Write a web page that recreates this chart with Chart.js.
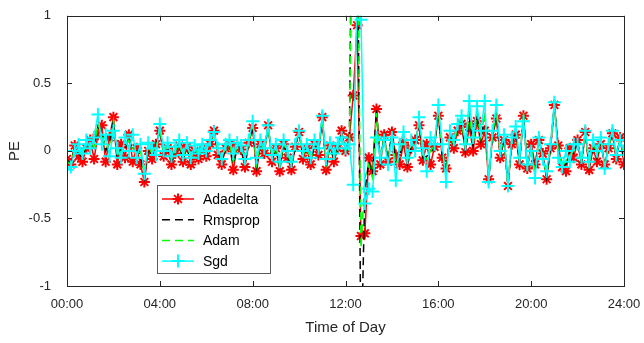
<!DOCTYPE html>
<html>
<head>
<meta charset="utf-8">
<script src="https://cdn.jsdelivr.net/npm/chart.js@4.4.1/dist/chart.umd.min.js"></script>
<style>
    html, body { margin: 0; padding: 0; background: #fff; }
    #wrap { width: 644px; height: 343px; }
</style>
</head>
<body>
<div id="wrap"><canvas id="pe-chart" width="644" height="343"></canvas></div>
<script>
// Sample spacing of all series (minutes), starting at 00:00
const STEP_MIN = 10;

const seriesNames = ['Adadelta', 'Rmsprop', 'Adam', 'Sgd'];
const xTickLabels = ['00:00', '04:00', '08:00', '12:00', '16:00', '20:00', '24:00'];
const yTickLabels = ['-1', '-0.5', '0', '0.5', '1'];

const adadelta = [
    -0.06, -0.10, 0.04, -0.04, -0.08, 0.02,
    0.08, -0.06, 0.12, 0.19, -0.08, 0.10,
    0.25, -0.10, 0.05, -0.05, 0.12, -0.08,
    0.02, -0.10, -0.23, 0.00, -0.06, 0.05,
    0.15, -0.04, 0.02, -0.10, -0.02, 0.04,
    -0.08, 0.03, -0.10, 0.00, -0.06, 0.02,
    -0.04, 0.05, 0.15, -0.03, -0.10, 0.02,
    0.05, -0.14, 0.04, 0.01, -0.12, 0.06,
    0.17, -0.15, 0.05, -0.02, 0.19, -0.08,
    0.02, -0.15, 0.05, -0.05, -0.14, 0.03,
    0.14, -0.06, 0.02, -0.10, 0.05, -0.03,
    0.25, -0.14, 0.04, -0.08, 0.02, 0.15,
    0.00, 0.10, 0.41, 0.93, -0.63, -0.61,
    -0.05, -0.15, 0.31, -0.10, 0.12, -0.08,
    0.14, -0.03, -0.10, 0.06, -0.12, 0.02,
    0.08, 0.19, -0.07, 0.05, -0.10, 0.03,
    0.26, -0.05, -0.13, 0.10, 0.02, 0.15,
    0.20, -0.01, 0.18, 0.00, 0.22, 0.05,
    0.15, -0.21, 0.10, 0.24, -0.05, 0.08,
    -0.26, 0.05, 0.12, -0.10, 0.26, -0.13,
    0.05, -0.10, 0.08, -0.02, -0.21, 0.02,
    0.34, 0.04, -0.12, -0.15, 0.02, -0.05,
    0.08, -0.10, 0.14, -0.14, 0.02, -0.08,
    0.05, -0.10, 0.02, 0.13, -0.06, 0.10,
    -0.10
];

const rmsprop = [
    -0.07, -0.09, 0.03, -0.02, -0.05, 0.04,
    0.06, 0.02, 0.18, 0.14, 0.00, 0.07,
    0.23, -0.06, 0.02, 0.01, 0.10, 0.00,
    0.00, -0.03, -0.20, 0.02, -0.03, 0.03,
    0.16, -0.03, 0.03, -0.08, 0.00, 0.05,
    -0.06, 0.03, -0.08, 0.01, -0.05, 0.02,
    -0.03, 0.05, 0.15, -0.01, -0.08, 0.02,
    0.05, -0.10, 0.04, 0.02, -0.10, 0.06,
    0.18, -0.12, 0.05, 0.00, 0.19, -0.06,
    0.02, -0.12, 0.05, -0.03, -0.12, 0.03,
    0.14, -0.04, 0.02, -0.08, 0.05, -0.01,
    0.24, -0.12, 0.04, -0.06, 0.02, 0.13,
    0.00, 0.08, 3.00, 2.20, -1.60, -0.30,
    -0.08, -0.18, 0.30, -0.08, 0.11, -0.07,
    0.13, -0.08, -0.05, 0.09, -0.10, 0.04,
    0.05, 0.20, -0.05, -0.04, -0.02, 0.04,
    0.28, -0.02, -0.16, 0.11, 0.04, 0.17,
    0.22, 0.00, 0.25, 0.04, 0.26, 0.08,
    0.25, -0.22, 0.10, 0.28, -0.03, 0.09,
    -0.26, 0.07, 0.14, -0.08, 0.27, -0.12,
    0.03, -0.13, 0.08, -0.03, -0.20, 0.02,
    0.34, 0.02, -0.12, -0.10, 0.00, -0.02,
    0.07, -0.09, 0.14, -0.12, 0.04, -0.05,
    0.07, -0.10, 0.03, 0.13, -0.05, 0.10,
    -0.07
];

const adam = [
    -0.08, -0.10, 0.02, 0.00, -0.04, 0.05,
    0.05, 0.03, 0.20, 0.12, 0.02, 0.05,
    0.22, -0.04, 0.00, 0.03, 0.08, 0.02,
    -0.02, 0.00, -0.18, 0.03, -0.02, 0.02,
    0.17, -0.02, 0.04, -0.06, 0.00, 0.06,
    -0.05, 0.04, -0.07, 0.02, -0.04, 0.03,
    -0.02, 0.06, 0.14, 0.00, -0.07, 0.03,
    0.06, -0.08, 0.05, 0.02, -0.09, 0.07,
    0.19, -0.10, 0.06, 0.00, 0.18, -0.05,
    0.03, -0.11, 0.06, -0.02, -0.10, 0.04,
    0.14, -0.03, 0.03, -0.07, 0.06, 0.00,
    0.25, -0.10, 0.05, -0.05, 0.03, 0.12,
    0.00, 0.05, 2.50, 2.00, -0.72, -0.20,
    -0.10, -0.20, 0.28, -0.06, 0.10, -0.08,
    0.12, -0.10, -0.03, 0.10, -0.08, 0.05,
    0.04, 0.22, -0.03, -0.06, 0.00, 0.04,
    0.30, 0.00, -0.18, 0.12, 0.05, 0.18,
    0.23, 0.02, 0.28, 0.05, 0.28, 0.10,
    0.28, -0.22, 0.12, 0.30, -0.02, 0.10,
    -0.25, 0.08, 0.15, -0.07, 0.28, -0.12,
    0.02, -0.15, 0.09, -0.04, -0.18, 0.03,
    0.33, 0.00, -0.12, -0.07, -0.03, 0.00,
    0.06, -0.08, 0.14, -0.11, 0.05, -0.04,
    0.08, -0.11, 0.03, 0.14, -0.05, 0.09,
    -0.05
];

const sgd = [
    -0.14, -0.12, 0.00, 0.05, -0.02, 0.08,
    0.02, 0.10, 0.27, 0.05, 0.12, -0.04,
    0.15, 0.02, -0.05, 0.10, 0.00, 0.12,
    -0.05, 0.05, -0.17, 0.06, 0.02, -0.03,
    0.20, 0.00, 0.06, -0.04, 0.03, 0.08,
    -0.03, 0.06, -0.05, 0.04, -0.02, 0.05,
    0.00, 0.08, 0.14, 0.02, -0.06, 0.05,
    0.08, -0.02, 0.06, 0.04, -0.06, 0.08,
    0.22, -0.05, 0.08, 0.02, 0.19, -0.03,
    0.05, -0.08, 0.08, 0.00, -0.08, 0.05,
    0.15, 0.00, 0.05, -0.05, 0.08, 0.02,
    0.26, -0.06, 0.06, -0.02, 0.05, 0.10,
    0.02, 0.05, -0.25, 1.20, 0.97, -0.39,
    -0.28, -0.30, 0.10, -0.05, 0.08, -0.10,
    0.10, -0.22, 0.05, 0.14, -0.05, 0.08,
    0.00, 0.25, 0.02, -0.15, 0.10, 0.05,
    0.34, 0.05, -0.23, 0.15, 0.08, 0.20,
    0.26, 0.05, 0.37, 0.10, 0.33, 0.15,
    0.37, -0.23, 0.15, 0.34, 0.00, 0.12,
    -0.26, 0.10, 0.18, -0.05, 0.22, -0.10,
    0.00, -0.20, 0.10, -0.06, -0.15, 0.05,
    0.36, -0.05, -0.12, 0.00, -0.08, 0.05,
    0.05, -0.05, 0.15, -0.08, 0.08, 0.00,
    0.10, -0.13, 0.05, 0.15, -0.03, 0.08,
    0.00
];

const FONT = '"Liberation Sans", Arial, Helvetica, sans-serif';
const INK = '#262626';

const toPoints = arr => arr.map((v, i) => ({ x: i * STEP_MIN / 60, y: v }));

// box with inward ticks on all four sides (matlab look)
const framePlugin = {
    id: 'frame',
    afterDatasetsDraw(chart) {
        const { ctx, chartArea: a, scales } = chart;
        ctx.save();
        ctx.strokeStyle = INK;
        ctx.lineWidth = 1;
        ctx.strokeRect(Math.round(a.left) + 0.5, Math.round(a.top) + 0.5,
            Math.round(a.right - a.left), Math.round(a.bottom - a.top));
        const len = 5;
        ctx.beginPath();
        scales.x.ticks.forEach(t => {
            const px = Math.round(scales.x.getPixelForValue(t.value)) + 0.5;
            ctx.moveTo(px, a.bottom); ctx.lineTo(px, a.bottom - len);
            ctx.moveTo(px, a.top); ctx.lineTo(px, a.top + len);
        });
        scales.y.ticks.forEach(t => {
            const py = Math.round(scales.y.getPixelForValue(t.value)) + 0.5;
            ctx.moveTo(a.left, py); ctx.lineTo(a.left + len, py);
            ctx.moveTo(a.right, py); ctx.lineTo(a.right - len, py);
        });
        ctx.stroke();
        ctx.restore();
    }
};

// legend box inside plot area, lower left
const boxLegendPlugin = {
    id: 'boxLegend',
    afterDraw(chart, args, opts) {
        const { ctx } = chart;
        const { x, y, w, h, rowH, firstRow } = opts;
        ctx.save();
        ctx.fillStyle = '#fff';
        ctx.fillRect(x, y, w, h);
        ctx.strokeStyle = '#5a5a5a';
        ctx.lineWidth = 1;
        ctx.strokeRect(x + 0.5, y + 0.5, w, h);
        ctx.font = '14px ' + FONT;
        ctx.textBaseline = 'middle';
        chart.data.datasets.forEach((ds, i) => {
            const cy = y + firstRow + i * rowH;
            const x0 = x + 5, x1 = x + 37;
            ctx.strokeStyle = ds.borderColor;
            ctx.lineWidth = ds.borderWidth;
            ctx.setLineDash(ds.borderDash || []);
            ctx.beginPath();
            ctx.moveTo(x0, cy); ctx.lineTo(x1, cy);
            ctx.stroke();
            ctx.setLineDash([]);
            if (ds.pointRadius > 0) {
                ctx.lineWidth = ds.pointBorderWidth;
                Chart.helpers.drawPoint(ctx, { pointStyle: ds.pointStyle, radius: ds.pointRadius, rotation: 0, borderWidth: ds.pointBorderWidth }, (x0 + x1) / 2, cy);
            }
            ctx.fillStyle = '#000';
            ctx.fillText(ds.label, x + 46, cy + 1);
        });
        ctx.restore();
    }
};

const lineSet = (label, data, color, extra) => Object.assign({
    label,
    data: toPoints(data),
    borderColor: color,
    backgroundColor: color,
    pointBorderColor: color,
    pointBackgroundColor: color,
    borderWidth: 1.5,
    pointRadius: 0,
    pointBorderWidth: 2,
    tension: 0,
    fill: false,
}, extra);

new Chart(document.getElementById('pe-chart'), {
    type: 'line',
    data: {
        datasets: [
            lineSet(seriesNames[0], adadelta, '#ff0000', { pointStyle: 'star', pointRadius: 5.5, order: 3 }),
            lineSet(seriesNames[1], rmsprop, '#000000', { borderDash: [8, 5], order: 2 }),
            lineSet(seriesNames[2], adam, '#00ff00', { borderDash: [8, 5], order: 1 }),
            lineSet(seriesNames[3], sgd, '#00ffff', { pointStyle: 'cross', pointRadius: 6.5, order: 0 }),
        ]
    },
    options: {
        responsive: false,
        animation: false,
        devicePixelRatio: 1,
        layout: { padding: { top: 12, right: 20, left: 0, bottom: 0 } },
        plugins: {
            legend: { display: false },
            tooltip: { enabled: false },
            boxLegend: { x: 157, y: 185, w: 113, h: 88, rowH: 20.7, firstRow: 14 },
        },
        scales: {
            x: {
                type: 'linear',
                min: 0,
                max: 24,
                afterFit: s => { s.height = 57; },
                grid: { display: false },
                border: { display: false },
                ticks: {
                    stepSize: 4,
                    maxRotation: 0,
                    padding: 3,
                    color: INK,
                    font: { family: FONT, size: 13 },
                    callback: v => xTickLabels[Math.round(v / 4)],
                },
                title: {
                    display: true,
                    text: 'Time of Day',
                    color: INK,
                    font: { family: FONT, size: 15 },
                    padding: { top: 0, bottom: 6 },
                },
            },
            y: {
                min: -1,
                max: 1,
                afterFit: s => { s.width = 67; },
                grid: { display: false },
                border: { display: false },
                ticks: {
                    stepSize: 0.5,
                    padding: 8,
                    color: INK,
                    font: { family: FONT, size: 13 },
                    callback: v => yTickLabels[Math.round((v + 1) / 0.5)],
                },
                title: {
                    display: true,
                    text: 'PE',
                    color: INK,
                    font: { family: FONT, size: 15 },
                    padding: { top: 6, bottom: 0 },
                },
            },
        },
    },
    plugins: [framePlugin, boxLegendPlugin],
});
</script>
</body>
</html>
